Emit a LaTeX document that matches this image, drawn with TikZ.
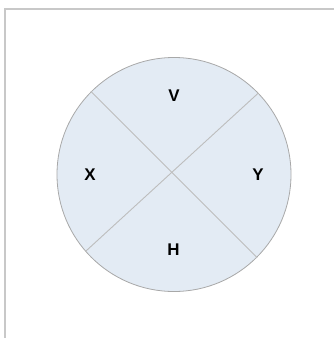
\documentclass[tikz,border=0pt]{standalone}
\usepackage{fontspec}
\setmainfont{Liberation Sans}
\definecolor{discfill}{HTML}{E3EBF4}
\definecolor{discline}{HTML}{A8A8A8}
\definecolor{cutline}{HTML}{BDBDBD}
\definecolor{frameline}{HTML}{C8C8C8}
\tikzset{
  disc/.style={circle,draw=discline,fill=discfill,line width=0.8bp,minimum size=234bp,inner sep=0pt},
  cut/.style={draw=cutline,line width=0.9bp},
  part/.style={font=\fontsize{17}{20}\selectfont\bfseries,inner sep=0pt}
}
\begin{document}
\begin{tikzpicture}[x=1bp,y=-1bp]
\useasboundingbox (0,0) rectangle (334,338);
% frame
\coordinate (fa) at (4.7,338);
\coordinate (fb) at (4.7,8.8);
\coordinate (fc) at (334,8.8);
\draw[frameline,line width=2bp] (fa) -- (fb) -- (fc);

\node[disc] (disc) at (174,174.5) {};
\draw[cut] (disc.135) -- (disc.-45);
\draw[cut] (disc.44) -- (disc.221);

\node[part] (v) at (174,96) {V};
\node[part] (x) at (90,175) {X};
\node[part] (y) at (258,175) {Y};
\node[part] (h) at (173.5,250) {H};
\end{tikzpicture}
\end{document}
